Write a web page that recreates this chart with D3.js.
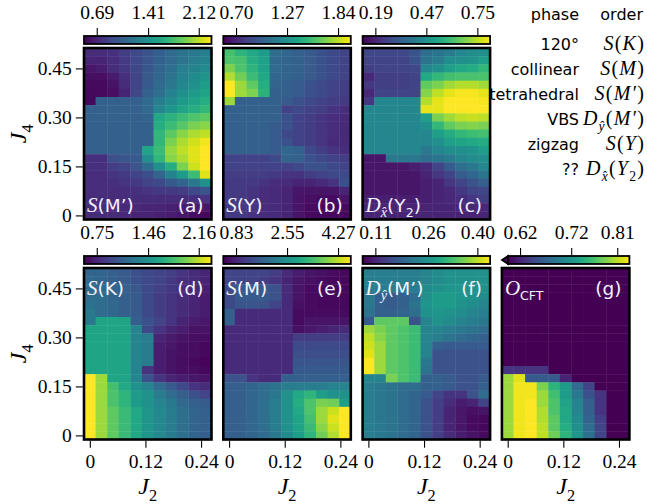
<!DOCTYPE html>
<html><head><meta charset="utf-8">
<script src="https://cdn.jsdelivr.net/npm/d3@7"></script>
<style>body{margin:0;background:#fff}svg{display:block}</style>
</head><body><svg id="c" width="647" height="504"></svg>
<script>
// ---------------- data ----------------
const J2 = [0, 0.025, 0.05, 0.075, 0.1, 0.125, 0.15, 0.175, 0.2, 0.225, 0.25];
const J4 = [0.5, 0.475, 0.45, 0.425, 0.4, 0.375, 0.35, 0.325, 0.3, 0.275, 0.25, 0.225, 0.2, 0.175, 0.15, 0.125, 0.1, 0.075, 0.05, 0.025, 0];
const J2Ticks = [0, 0.12, 0.24];
const J2TickLabels = ["0", "0.12", "0.24"];
const J4Ticks = [0, 0.15, 0.30, 0.45];
const J4TickLabels = ["0", "0.15", "0.30", "0.45"];

// colorbar tick labels per panel
const cbTicksA = [0.69, 1.41, 2.12];
const cbTicksB = [0.70, 1.27, 1.84];
const cbTicksC = [0.19, 0.47, 0.75];
const cbTicksD = [0.75, 1.46, 2.16];
const cbTicksE = [0.83, 2.55, 4.27];
const cbTicksF = [0.11, 0.26, 0.40];
const cbTicksG = [0.62, 0.72, 0.81];

// (a) S(M')  rows: J4 from 0.5 down to 0, cols: J2 0..0.25
const S_Mprime = [
[0.73,0.73,0.76,0.83,0.90,0.98,1.05,1.12,1.19,1.23,1.26],
[0.69,0.69,0.74,0.81,0.90,0.98,1.05,1.12,1.19,1.26,1.31],
[0.62,0.65,0.73,0.80,0.89,0.99,1.08,1.15,1.26,1.31,1.37],
[0.58,0.58,0.64,0.76,0.87,1.01,1.10,1.19,1.30,1.37,1.44],
[0.56,0.56,0.60,0.73,0.87,1.01,1.12,1.23,1.33,1.40,1.49],
[0.55,0.56,0.58,0.69,0.90,1.05,1.15,1.30,1.40,1.48,1.55],
[0.55,1.05,1.05,1.05,1.05,1.12,1.26,1.37,1.48,1.55,1.62],
[1.05,1.05,1.05,1.05,1.05,1.12,1.33,1.44,1.55,1.62,1.69],
[1.05,1.05,1.05,1.05,1.05,1.08,1.58,1.65,1.73,1.80,1.85],
[1.05,1.05,1.05,1.05,1.05,1.05,1.62,1.73,1.83,1.94,1.98],
[1.05,1.05,1.05,1.05,1.05,1.05,1.69,1.85,1.98,2.08,2.12],
[1.05,1.05,1.05,1.05,1.05,1.05,1.69,1.94,2.08,2.17,2.26],
[1.05,1.05,1.05,1.05,1.05,1.55,1.73,2.01,2.12,2.21,2.30],
[0.76,0.76,0.94,0.98,1.01,1.40,1.69,1.98,2.08,2.21,2.30],
[0.76,0.76,0.83,0.87,0.98,1.14,1.40,1.62,1.94,2.16,2.30],
[0.74,0.74,0.78,0.81,0.87,0.94,1.08,1.31,1.49,1.73,2.21],
[0.74,0.74,0.76,0.78,0.81,0.87,0.90,1.01,1.08,1.23,1.40],
[0.74,0.74,0.74,0.74,0.76,0.78,0.80,0.81,0.83,0.90,0.96],
[0.73,0.73,0.73,0.73,0.73,0.73,0.73,0.73,0.73,0.76,0.78],
[0.73,0.73,0.73,0.71,0.71,0.69,0.69,0.67,0.65,0.64,0.62],
[0.73,0.73,0.73,0.71,0.69,0.69,0.67,0.65,0.62,0.58,0.55]
];

// (b) S(Y)
const S_Y = [
[1.56,1.48,1.41,1.34,1.06,1.03,0.99,0.96,0.91,0.87,0.84],
[1.58,1.56,1.44,1.36,1.04,1.01,0.99,0.96,0.91,0.87,0.84],
[1.70,1.58,1.48,1.38,1.04,1.01,0.99,0.96,0.91,0.87,0.84],
[1.81,1.67,1.53,1.41,1.03,1.01,0.99,0.96,0.91,0.87,0.84],
[1.98,1.77,1.63,1.44,1.01,0.99,0.96,0.91,0.87,0.84,0.81],
[1.98,1.77,1.70,1.47,0.99,0.99,0.96,0.91,0.87,0.84,0.81],
[1.77,0.99,0.99,0.99,0.99,0.96,0.91,0.87,0.84,0.81,0.80],
[0.99,0.99,0.99,0.99,0.99,0.84,0.87,0.84,0.81,0.77,0.74],
[0.99,0.99,0.99,0.99,0.99,0.91,0.84,0.81,0.77,0.74,0.73],
[0.99,0.99,0.99,0.99,0.96,0.91,0.84,0.81,0.77,0.74,0.73],
[0.99,0.99,0.99,0.99,0.96,0.87,0.84,0.81,0.77,0.74,0.73],
[0.99,0.99,0.99,0.99,0.96,0.91,0.84,0.81,0.77,0.73,0.73],
[0.99,0.99,0.99,0.99,0.96,1.03,0.99,0.87,0.81,0.77,0.74],
[0.84,0.84,0.84,0.84,0.87,1.01,0.99,0.91,0.87,0.84,0.81],
[0.84,0.84,0.84,0.84,0.84,0.84,0.87,0.91,0.91,0.87,0.84],
[0.81,0.81,0.81,0.81,0.80,0.77,0.77,0.81,0.84,0.87,0.87],
[0.80,0.80,0.80,0.77,0.74,0.73,0.70,0.70,0.73,0.77,0.91],
[0.80,0.80,0.77,0.74,0.73,0.70,0.64,0.63,0.63,0.64,0.70],
[0.80,0.80,0.77,0.74,0.73,0.70,0.63,0.61,0.60,0.60,0.63],
[0.80,0.80,0.77,0.74,0.73,0.70,0.63,0.60,0.59,0.59,0.60],
[0.80,0.80,0.77,0.74,0.73,0.70,0.63,0.60,0.59,0.59,0.59]
];

// (c) D_x(Y2)
const Dx_Y2 = [
[0.27,0.27,0.27,0.27,0.30,0.37,0.39,0.41,0.44,0.46,0.47],
[0.26,0.26,0.26,0.26,0.30,0.39,0.41,0.46,0.47,0.48,0.51],
[0.25,0.26,0.26,0.26,0.27,0.44,0.47,0.51,0.54,0.55,0.58],
[0.20,0.25,0.25,0.25,0.26,0.54,0.58,0.61,0.62,0.62,0.62],
[0.23,0.25,0.25,0.25,0.26,0.65,0.68,0.72,0.74,0.74,0.72],
[0.20,0.26,0.26,0.26,0.26,0.69,0.75,0.79,0.81,0.81,0.79],
[0.23,0.44,0.44,0.44,0.44,0.74,0.79,0.82,0.82,0.82,0.81],
[0.44,0.44,0.44,0.44,0.44,0.79,0.79,0.82,0.82,0.82,0.82],
[0.44,0.44,0.44,0.44,0.44,0.51,0.68,0.72,0.75,0.76,0.75],
[0.44,0.44,0.44,0.44,0.44,0.47,0.58,0.65,0.68,0.69,0.68],
[0.44,0.44,0.44,0.44,0.44,0.44,0.51,0.55,0.58,0.60,0.61],
[0.44,0.44,0.44,0.44,0.44,0.44,0.47,0.51,0.53,0.54,0.55],
[0.44,0.44,0.44,0.44,0.44,0.40,0.44,0.46,0.47,0.48,0.51],
[0.16,0.16,0.40,0.40,0.40,0.37,0.39,0.41,0.44,0.46,0.47],
[0.16,0.16,0.16,0.16,0.18,0.20,0.26,0.32,0.37,0.40,0.44],
[0.16,0.16,0.16,0.16,0.16,0.19,0.23,0.26,0.32,0.35,0.39],
[0.16,0.16,0.16,0.16,0.16,0.18,0.19,0.23,0.26,0.30,0.33],
[0.16,0.16,0.16,0.16,0.16,0.18,0.19,0.20,0.23,0.26,0.27],
[0.18,0.18,0.18,0.18,0.18,0.18,0.19,0.20,0.21,0.23,0.25],
[0.19,0.19,0.19,0.19,0.19,0.19,0.19,0.19,0.20,0.20,0.20],
[0.19,0.19,0.19,0.19,0.19,0.19,0.19,0.19,0.19,0.19,0.19]
];

// (d) S(K)
const S_K = [
[1.14,1.14,1.10,1.07,1.01,0.96,0.93,0.89,0.84,0.79,0.75],
[1.16,1.14,1.10,1.07,1.01,0.96,0.93,0.87,0.82,0.79,0.75],
[1.19,1.16,1.14,1.10,1.05,0.96,0.91,0.86,0.80,0.77,0.73],
[1.19,1.19,1.14,1.10,1.07,0.96,0.89,0.84,0.79,0.75,0.71],
[1.24,1.19,1.16,1.10,1.07,0.96,0.89,0.84,0.79,0.75,0.71],
[1.28,1.19,1.16,1.10,1.07,0.96,0.89,0.84,0.79,0.75,0.71],
[1.28,1.60,1.60,1.60,1.10,1.01,0.93,0.84,0.75,0.71,0.68],
[1.60,1.60,1.60,1.60,1.37,0.96,0.84,0.75,0.71,0.66,0.66],
[1.60,1.60,1.60,1.60,1.37,1.31,0.75,0.70,0.66,0.64,0.63],
[1.60,1.60,1.60,1.60,1.37,1.31,0.71,0.68,0.64,0.63,0.61],
[1.60,1.60,1.60,1.60,1.37,1.31,0.71,0.66,0.64,0.63,0.61],
[1.60,1.60,1.60,1.60,1.37,1.31,0.71,0.66,0.63,0.61,0.59],
[1.60,1.60,1.60,1.60,1.37,0.84,0.71,0.66,0.64,0.63,0.61],
[2.34,2.07,1.60,1.60,1.37,1.01,0.84,0.75,0.71,0.68,0.66],
[2.34,2.07,1.81,1.63,1.46,1.37,1.19,1.07,0.96,0.84,0.79],
[2.34,2.07,1.84,1.72,1.54,1.46,1.31,1.19,1.10,1.01,0.93],
[2.34,2.07,1.84,1.72,1.54,1.46,1.37,1.28,1.16,1.10,1.07],
[2.34,2.07,1.90,1.77,1.63,1.49,1.40,1.31,1.21,1.14,1.10],
[2.34,2.07,1.90,1.77,1.63,1.49,1.40,1.31,1.21,1.14,1.10],
[2.34,2.07,1.90,1.77,1.63,1.49,1.40,1.31,1.21,1.14,1.10],
[2.34,2.07,1.90,1.77,1.63,1.49,1.40,1.31,1.21,1.14,1.10]
];

// (e) S(M)
const S_M = [
[1.26,1.26,1.26,1.26,1.17,0.92,0.74,0.62,0.57,0.53,0.49],
[1.26,1.26,1.26,1.17,1.05,0.83,0.66,0.57,0.53,0.49,0.49],
[1.35,1.60,1.60,1.60,1.48,0.92,0.62,0.53,0.49,0.49,0.49],
[1.35,1.60,1.60,1.60,1.48,0.92,0.62,0.53,0.49,0.49,0.49],
[1.35,1.52,1.52,1.48,1.26,0.92,0.57,0.53,0.49,0.49,0.49],
[1.69,0.92,0.92,0.92,0.92,0.92,0.53,0.53,0.53,0.53,0.53],
[1.69,0.92,0.92,0.92,0.92,0.92,0.53,0.62,0.62,0.62,0.62],
[0.92,0.92,0.92,0.92,0.92,0.92,0.57,0.66,0.74,0.83,0.92],
[0.92,0.92,0.92,0.92,0.92,0.92,1.17,1.17,1.17,1.17,1.17],
[0.92,0.92,0.92,0.92,0.92,0.92,1.35,1.35,1.35,1.35,1.35],
[0.92,0.92,0.92,0.92,0.92,0.92,1.43,1.43,1.43,1.43,1.43],
[0.92,0.92,0.92,0.92,0.92,0.92,1.52,1.52,1.52,1.52,1.52],
[0.92,0.92,0.92,0.92,0.92,0.92,1.60,1.60,1.60,1.60,1.60],
[1.48,1.48,1.05,0.92,0.92,1.69,1.69,1.69,1.69,1.69,1.69],
[1.69,1.69,1.78,1.91,2.03,2.21,2.21,2.21,2.21,2.34,2.34],
[1.69,1.69,1.82,1.91,2.12,2.55,2.98,3.20,2.77,2.55,2.55],
[1.69,1.69,1.82,1.95,2.21,2.55,3.07,3.50,3.84,3.75,2.77],
[1.69,1.69,1.82,1.95,2.21,2.55,2.98,3.50,4.06,4.36,4.70],
[1.69,1.69,1.82,1.95,2.21,2.55,2.89,3.41,4.06,4.49,4.70],
[1.69,1.69,1.82,1.95,2.21,2.55,2.89,3.32,3.93,4.36,4.70],
[1.69,1.69,1.78,1.91,2.12,2.46,2.77,3.20,3.75,4.18,4.70]
];

// (f) D_y(M')
const Dy_Mprime = [
[0.226,0.226,0.226,0.226,0.226,0.237,0.248,0.255,0.255,0.255,0.255],
[0.226,0.226,0.226,0.226,0.226,0.237,0.248,0.255,0.255,0.255,0.255],
[0.226,0.226,0.226,0.226,0.226,0.248,0.255,0.263,0.263,0.255,0.255],
[0.219,0.183,0.176,0.183,0.201,0.255,0.273,0.273,0.263,0.255,0.248],
[0.219,0.183,0.176,0.183,0.212,0.263,0.273,0.273,0.255,0.248,0.237],
[0.212,0.183,0.183,0.190,0.201,0.255,0.263,0.255,0.248,0.237,0.226],
[0.176,0.346,0.346,0.346,0.165,0.237,0.255,0.248,0.237,0.226,0.219],
[0.382,0.364,0.346,0.335,0.321,0.237,0.237,0.226,0.219,0.212,0.201],
[0.400,0.371,0.346,0.335,0.321,0.237,0.226,0.212,0.201,0.190,0.183],
[0.408,0.382,0.346,0.335,0.321,0.237,0.183,0.176,0.176,0.176,0.176],
[0.418,0.382,0.346,0.335,0.321,0.237,0.165,0.165,0.165,0.165,0.165],
[0.437,0.382,0.346,0.335,0.321,0.219,0.165,0.165,0.165,0.165,0.165],
[0.437,0.382,0.346,0.335,0.321,0.212,0.165,0.165,0.165,0.165,0.165],
[0.237,0.237,0.364,0.335,0.321,0.183,0.183,0.176,0.165,0.165,0.176],
[0.226,0.219,0.212,0.201,0.201,0.183,0.183,0.176,0.165,0.165,0.183],
[0.226,0.219,0.212,0.201,0.190,0.176,0.147,0.128,0.128,0.165,0.201],
[0.226,0.219,0.212,0.201,0.190,0.165,0.139,0.118,0.103,0.110,0.147],
[0.226,0.219,0.212,0.201,0.190,0.165,0.139,0.110,0.096,0.088,0.092],
[0.226,0.219,0.212,0.201,0.190,0.165,0.139,0.110,0.096,0.085,0.081],
[0.226,0.219,0.212,0.201,0.190,0.165,0.139,0.110,0.096,0.085,0.081],
[0.226,0.219,0.212,0.201,0.190,0.165,0.139,0.118,0.103,0.092,0.085]
];

// (g) O_CFT  (values below the colorbar minimum shown with the "min" extension colour)
const O_CFT = [
[0.55,0.55,0.55,0.55,0.55,0.55,0.55,0.55,0.55,0.55,0.55],
[0.55,0.55,0.55,0.55,0.55,0.55,0.55,0.55,0.55,0.55,0.55],
[0.55,0.55,0.55,0.55,0.55,0.55,0.55,0.55,0.55,0.55,0.55],
[0.55,0.55,0.55,0.55,0.55,0.55,0.55,0.55,0.55,0.55,0.55],
[0.55,0.55,0.55,0.55,0.55,0.55,0.55,0.55,0.55,0.55,0.55],
[0.55,0.55,0.55,0.55,0.55,0.55,0.55,0.55,0.55,0.55,0.55],
[0.55,0.55,0.55,0.55,0.55,0.55,0.55,0.55,0.55,0.55,0.55],
[0.55,0.55,0.55,0.55,0.55,0.55,0.55,0.55,0.55,0.55,0.55],
[0.55,0.55,0.55,0.55,0.55,0.55,0.55,0.55,0.55,0.55,0.55],
[0.55,0.55,0.55,0.55,0.55,0.55,0.55,0.55,0.55,0.55,0.55],
[0.55,0.55,0.55,0.55,0.55,0.55,0.55,0.55,0.55,0.55,0.55],
[0.55,0.55,0.55,0.55,0.55,0.55,0.55,0.55,0.55,0.55,0.55],
[0.632,0.632,0.632,0.632,0.55,0.55,0.55,0.55,0.55,0.55,0.55],
[0.798,0.822,0.663,0.663,0.663,0.620,0.55,0.55,0.55,0.55,0.55],
[0.798,0.829,0.829,0.786,0.750,0.727,0.679,0.644,0.55,0.55,0.55],
[0.798,0.829,0.829,0.798,0.762,0.727,0.691,0.655,0.632,0.55,0.55],
[0.798,0.829,0.834,0.798,0.767,0.734,0.703,0.667,0.632,0.55,0.55],
[0.798,0.829,0.834,0.805,0.767,0.739,0.703,0.667,0.632,0.55,0.55],
[0.798,0.829,0.834,0.805,0.774,0.739,0.710,0.672,0.639,0.55,0.55],
[0.798,0.829,0.834,0.810,0.774,0.743,0.715,0.679,0.644,0.55,0.55],
[0.798,0.829,0.834,0.810,0.781,0.750,0.720,0.686,0.644,0.55,0.55]
];

// legend rows
const legendPhase = ["120°", "collinear", "tetrahedral", "VBS", "zigzag", "??"];

// ---------------- drawing ----------------
const SANS = "'DejaVu Sans', sans-serif";
const SERIF = "'Liberation Serif', 'Times New Roman', serif";
const svg = d3.select("#c");

function rich(parent, x, y, segs, o) {
  const t = parent.append("text").attr("x", x).attr("y", y)
    .attr("text-anchor", o.anchor || "start").attr("fill", o.fill || "#000");
  let cur = 0;
  segs.forEach(s => {
    const base = s.m ? o.msize : o.size;
    const size = (s.sub ? 0.68 : 1) * base;
    const ts = t.append("tspan").text(s.t)
      .attr("font-family", s.m ? SERIF : SANS)
      .attr("font-style", s.m && s.i !== false ? "italic" : "normal")
      .attr("font-size", size);
    const want = s.sub ? o.size * 0.28 : 0;
    if (want !== cur) { ts.attr("dy", want - cur); cur = want; }
    if (s.dx) ts.attr("dx", s.dx);
  });
  return t;
}

const W = 127.5, H = 171.5;
const colX = [84, 223.3, 362.6, 501.9];
const rowTop = [48, 268];
const cbOffset = 12; // colorbar top above panel top
const cbH = 8;
const TICKFS = 19.5;

const labS = (inner) => [{t: "S", m: 1}, {t: inner}];
const panels = [
  {data: S_Mprime, ticks: cbTicksA, col: 0, row: 0, lab: labS("(M’)"), letter: "(a)"},
  {data: S_Y, ticks: cbTicksB, col: 1, row: 0, lab: labS("(Y)"), letter: "(b)"},
  {data: Dx_Y2, ticks: cbTicksC, col: 2, row: 0, lab: [{t: "D", m: 1}, {t: "x\u0302", m: 1, sub: 1}, {t: "(Y"}, {t: "2", sub: 1}, {t: ")"}], letter: "(c)"},
  {data: S_K, ticks: cbTicksD, col: 0, row: 1, lab: labS("(K)"), letter: "(d)"},
  {data: S_M, ticks: cbTicksE, col: 1, row: 1, lab: labS("(M)"), letter: "(e)"},
  {data: Dy_Mprime, ticks: cbTicksF, col: 2, row: 1, lab: [{t: "D", m: 1}, {t: "y\u0302", m: 1, sub: 1}, {t: "(M’)"}], letter: "(f)"},
  {data: O_CFT, ticks: cbTicksG, col: 3, row: 1, lab: [{t: "O", m: 1}, {t: "CFT", sub: 1}], letter: "(g)", extendMin: true}
];

const defs = svg.append("defs");
const grad = defs.append("linearGradient").attr("id", "vir").attr("x1", 0).attr("x2", 1).attr("y1", 0).attr("y2", 0);
d3.range(0, 1.0001, 0.05).forEach(t => grad.append("stop").attr("offset", t).attr("stop-color", d3.interpolateViridis(t)));

panels.forEach((p, pi) => {
  const x0 = colX[p.col], y0 = rowTop[p.row];
  const g = svg.append("g");
  const x = d3.scaleLinear().domain([-0.0125, 0.2625]).range([x0, x0 + W]);
  const y = d3.scaleLinear().domain([-0.0125, 0.5125]).range([y0 + H, y0]);
  const [t0, , t2] = p.ticks;
  const pad = (t2 - t0) / 8;
  const vmin = t0 - pad, vmax = t2 + pad;
  const color = d3.scaleSequential(d3.interpolateViridis).domain([vmin, vmax]).clamp(true);

  const cells = [];
  p.data.forEach((row, i) => row.forEach((v, j) => cells.push({j2: J2[j], j4: J4[i], v})));
  const half = 0.0125;
  g.selectAll("rect.cell").data(cells).join("rect").attr("class", "cell")
    .attr("x", d => x(d.j2 - half)).attr("y", d => y(d.j4 + half))
    .attr("width", d => x(d.j2 + half) - x(d.j2 - half) + 0.4)
    .attr("height", d => y(d.j4 - half) - y(d.j4 + half) + 0.4)
    .attr("fill", d => color(d.v));
  g.append("rect").attr("x", x0).attr("y", y0).attr("width", W).attr("height", H)
    .attr("fill", "none").attr("stroke", "#000").attr("stroke-width", 2.6);

  // colorbar
  const cy = y0 - cbOffset;
  let bx0 = x0;
  if (p.extendMin) {
    bx0 = x0 + 6;
    g.append("path").attr("d", `M${x0},${cy + cbH / 2}L${bx0},${cy}L${bx0},${cy + cbH}Z`)
      .attr("fill", d3.interpolateViridis(0)).attr("stroke", "#000").attr("stroke-width", 1.6).attr("stroke-linejoin", "miter");
  }
  g.append("rect").attr("x", bx0).attr("y", cy).attr("width", x0 + W - bx0).attr("height", cbH)
    .attr("fill", "url(#vir)").attr("stroke", "#000").attr("stroke-width", 1.8);
  const cbScale = d3.scaleLinear().domain([vmin, vmax]).range([bx0, x0 + W]);
  const ax = g.append("g").attr("transform", `translate(0,${cy - 1})`)
    .call(d3.axisTop(cbScale).tickValues(p.ticks).tickFormat(d3.format(".2f")).tickSize(7).tickPadding(9));
  ax.select(".domain").remove();
  ax.attr("font-family", SERIF).attr("font-size", TICKFS);
  ax.selectAll("line").attr("stroke", "#000").attr("stroke-width", 1.1);
  ax.selectAll("text").attr("font-family", SERIF).attr("font-size", TICKFS).attr("fill", "#000");

  // y axis
  if (p.col === 0) {
    const ya = g.append("g").attr("transform", `translate(${x0 - 1.2},0)`)
      .call(d3.axisLeft(y).tickValues(J4Ticks).tickFormat((d, i) => J4TickLabels[i]).tickSize(7).tickPadding(4));
    ya.select(".domain").remove();
    ya.attr("font-family", SERIF).attr("font-size", TICKFS);
    ya.selectAll("line").attr("stroke", "#000").attr("stroke-width", 1.1);
    ya.selectAll("text").attr("font-family", SERIF).attr("font-size", TICKFS).attr("fill", "#000");
    const yl = g.append("g").attr("transform", `translate(26,${y0 + H / 2}) rotate(-90)`);
    rich(yl, 0, 0, [{t: "J", m: 1}, {t: "4", m: 1, i: false, sub: 1}], {size: 24, msize: 24, anchor: "middle"});
  }
  // x axis
  if (p.row === 1) {
    const xa = g.append("g").attr("transform", `translate(0,${y0 + H + 1.2})`)
      .call(d3.axisBottom(x).tickValues(J2Ticks).tickFormat((d, i) => J2TickLabels[i]).tickSize(7).tickPadding(6));
    xa.select(".domain").remove();
    xa.attr("font-family", SERIF).attr("font-size", TICKFS);
    xa.selectAll("line").attr("stroke", "#000").attr("stroke-width", 1.1);
    xa.selectAll("text").attr("font-family", SERIF).attr("font-size", TICKFS).attr("fill", "#000");
    rich(g, x0 + W / 2, 494, [{t: "J", m: 1}, {t: "2", m: 1, i: false, sub: 1}], {size: 24, msize: 24, anchor: "middle"});
  }

  // panel labels
  const ly = p.row === 0 ? y0 + H - 8 : y0 + 27;
  rich(g, x0 + 3, ly, p.lab, {size: 18.5, msize: 21, fill: "#f4f2fb"});
  g.append("text").attr("x", x0 + W - 8).attr("y", ly).attr("text-anchor", "end")
    .attr("font-family", SANS).attr("font-size", 18.5).attr("fill", "#f4f2fb").text(p.letter);
});

// legend (phase / order)
const leg = svg.append("g");
leg.append("text").attr("x", 579).attr("y", 20).attr("text-anchor", "end").attr("font-family", SANS).attr("font-size", 16).text("phase");
leg.append("text").attr("x", 643).attr("y", 20).attr("text-anchor", "end").attr("font-family", SANS).attr("font-size", 16).text("order");
const P = {t: "(", m: 1, i: false}, Q = {t: ")", m: 1, i: false};
const legendOrder = [
  [{t: "S", m: 1}, P, {t: "K", m: 1}, Q],
  [{t: "S", m: 1}, P, {t: "M", m: 1}, Q],
  [{t: "S", m: 1}, P, {t: "M′", m: 1}, Q],
  [{t: "D", m: 1}, {t: "y\u0302", m: 1, sub: 1}, P, {t: "M′", m: 1}, Q],
  [{t: "S", m: 1}, P, {t: "Y", m: 1}, Q],
  [{t: "D", m: 1}, {t: "x\u0302", m: 1, sub: 1}, P, {t: "Y", m: 1}, {t: "2", m: 1, i: false, sub: 1}, Q]
];
legendPhase.forEach((ph, i) => {
  const by = 50 + i * 25;
  leg.append("text").attr("x", 579).attr("y", by).attr("text-anchor", "end").attr("font-family", SANS).attr("font-size", 16).text(ph);
  const t = rich(leg, 645, by, legendOrder[i], {size: 20, msize: 20, anchor: "end"});
  t.attr("letter-spacing", 1.2);
});
</script></body></html>
